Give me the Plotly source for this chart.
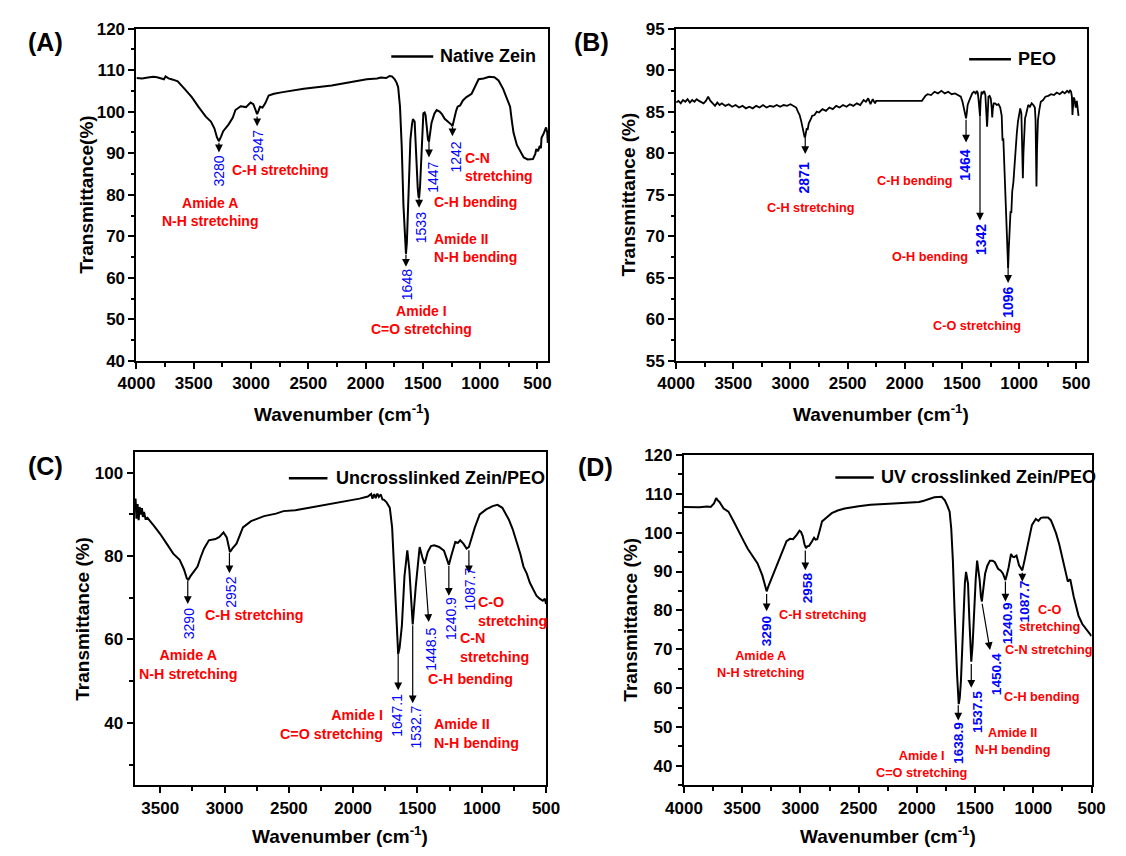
import plotly.graph_objects as go

# ---------------- data ----------------
# (A) Native Zein
wA = [4000, 3950, 3900, 3853, 3820, 3790, 3760, 3746, 3720, 3680, 3640, 3580, 3517, 3460, 3395, 3350,
      3320, 3297, 3280, 3262, 3243, 3197, 3160, 3136, 3090, 3044, 3004, 2980, 2958, 2947, 2935, 2922,
      2900, 2876, 2846, 2800, 2723, 2540, 2296, 2100, 1990, 1900, 1868, 1820, 1792, 1770, 1746, 1730,
      1716, 1700, 1685, 1670, 1660, 1648, 1640, 1630, 1620, 1609, 1595, 1587, 1572, 1557, 1545, 1538,
      1533, 1525, 1517, 1505, 1496, 1485, 1477, 1465, 1456, 1447, 1435, 1425, 1400, 1380, 1355, 1334,
      1310, 1288, 1265, 1252, 1242, 1227, 1210, 1197, 1175, 1151, 1120, 1075, 1040, 1014, 970, 922,
      876, 840, 800, 770, 739, 725, 709, 680, 648, 620, 586, 560, 540, 520, 510, 495, 480, 470, 465,
      450, 434, 425, 415, 410]
TA = [108.1, 108.0, 108.2, 108.4, 108.3, 108.0, 107.8, 108.5, 108.0, 107.7, 107.3, 105.5, 103.5, 101.2,
      98.8, 97.6, 96.0, 93.8, 92.9, 94.0, 95.3, 96.9, 98.5, 100.4, 101.3, 101.1, 102.2, 101.8, 99.8, 99.4,
      100.2, 101.2, 101.0, 102.0, 103.9, 104.3, 104.7, 105.5, 106.3, 107.2, 107.8, 108.0, 108.2, 108.1,
      108.6, 108.5, 107.8, 107.0, 105.9, 101.2, 91.8, 77.6, 70.0, 65.8, 68.5, 77.6, 86.0, 93.3, 97.0,
      98.2, 97.6, 87.0, 81.5, 79.5, 79.3, 82.0, 87.0, 95.0, 99.6, 99.8, 99.2, 96.0, 93.3, 92.8, 95.5,
      97.3, 99.5, 100.4, 100.0, 99.4, 98.3, 97.8, 97.2, 96.9, 96.5, 98.4, 100.2, 101.2, 101.5, 102.7,
      103.5, 104.3, 106.5, 107.8, 108.0, 108.4, 108.3, 107.5, 105.5, 103.5, 101.2, 98.0, 94.9, 92.0,
      90.2, 89.0, 88.5, 88.5, 88.6, 89.8, 91.0, 90.5, 91.8, 91.2, 93.7, 94.5, 95.7, 96.2, 95.0, 92.5]

# (B) PEO
wB = [4000, 3980, 3960, 3940, 3920, 3900, 3880, 3860, 3840, 3820, 3800, 3780, 3760, 3740, 3720, 3700,
      3680, 3660, 3640, 3620, 3600, 3570, 3540, 3510, 3480, 3450, 3420, 3390, 3360, 3330, 3300, 3270,
      3240, 3210, 3180, 3150, 3120, 3090, 3060, 3030, 3000, 2970, 2950, 2935, 2920, 2905, 2895, 2885,
      2876, 2871, 2865, 2858, 2850, 2840, 2825, 2810, 2790, 2770, 2750, 2720, 2690, 2660, 2630, 2600,
      2570, 2540, 2510, 2480, 2450, 2420, 2390, 2360, 2340, 2320, 2300, 2280, 2260, 2250, 1850, 1820,
      1800, 1770, 1740, 1710, 1680, 1650, 1620, 1590, 1560, 1530, 1510, 1495, 1485, 1475, 1468, 1464,
      1458, 1450, 1440, 1425, 1410, 1395, 1380, 1370, 1362, 1355, 1348, 1342, 1336, 1328, 1318, 1305,
      1295, 1285, 1280, 1275, 1268, 1258, 1248, 1240, 1235, 1230, 1222, 1210, 1195, 1180, 1165, 1152,
      1145, 1138, 1130, 1120, 1110, 1102, 1096, 1090, 1082, 1075, 1068, 1060, 1050, 1040, 1030, 1020,
      1010, 1000, 990, 980, 972, 967, 962, 955, 948, 940, 930, 920, 905, 890, 875, 862, 856, 852, 848,
      843, 835, 822, 810, 790, 770, 745, 720, 695, 670, 645, 620, 600, 580, 565, 555, 545, 538, 533,
      528, 523, 515, 505, 495, 487, 480]
TB = [86.1, 86.3, 86.0, 86.4, 86.2, 86.5, 86.1, 86.4, 86.2, 86.5, 86.3, 86.1, 86.0, 86.3, 86.8, 86.3,
      86.0, 85.7, 86.1, 85.8, 86.0, 85.7, 85.9, 85.6, 85.8, 85.5, 85.7, 85.4, 85.6, 85.4, 85.7, 85.5,
      85.8, 85.5, 85.7, 85.6, 85.8, 85.6, 85.8, 85.7, 85.9, 85.7, 85.5, 85.0, 84.6, 83.8, 83.0, 82.3,
      81.9, 82.0, 82.4, 83.0, 82.8, 83.6, 84.0, 84.5, 84.6, 85.0, 84.9, 85.3, 85.1, 85.5, 85.3, 85.7,
      85.5, 85.8, 85.6, 85.9, 85.7, 86.0, 85.8, 86.4, 86.2, 86.6, 85.9, 86.5, 86.0, 86.3, 86.3, 86.9,
      87.1, 87.0, 87.4, 87.2, 87.5, 87.2, 87.4, 87.1, 87.2, 86.9, 86.8, 86.2, 85.6, 84.9, 84.3, 84.2,
      84.8, 85.8, 86.2, 86.8, 87.2, 87.4, 87.2, 87.5, 87.3, 86.5, 85.0, 84.5, 86.5, 87.4, 87.2, 87.5,
      87.0, 85.0, 83.2, 84.5, 86.8, 86.9, 86.6, 85.5, 84.3, 85.3, 86.0, 86.0, 85.8, 85.9, 85.5, 84.5,
      81.5, 81.8, 79.0, 75.7, 72.5, 68.0, 66.2, 68.5, 71.8, 73.0, 72.8, 75.4, 76.5, 78.9, 80.5, 82.4,
      83.8, 84.8, 85.4, 84.8, 80.0, 77.0, 80.0, 83.5, 84.2, 84.6, 85.2, 85.8, 85.6, 86.0, 85.8, 85.5,
      84.0, 80.0, 76.0, 80.5, 84.0, 85.3, 86.2, 86.4, 86.8, 86.9, 87.1, 87.0, 87.3, 87.1, 87.4, 87.2,
      87.5, 87.3, 87.6, 87.4, 86.8, 84.6, 85.6, 86.7, 86.5, 85.5, 86.3, 85.2, 84.5]

# (C) Uncrosslinked Zein/PEO
wC = [3700, 3692, 3685, 3676, 3668, 3660, 3651, 3642, 3635, 3626, 3615, 3600, 3550, 3500, 3450, 3399,
      3349, 3315, 3293, 3280, 3265, 3248, 3210, 3185, 3160, 3122, 3071, 3040, 3008, 2983, 2958, 2950,
      2940, 2907, 2857, 2794, 2693, 2600, 2542, 2450, 2340, 2200, 2088, 1950, 1886, 1860, 1850, 1836,
      1825, 1812, 1800, 1785, 1772, 1760, 1740, 1715, 1697, 1680, 1659, 1650, 1639, 1621, 1601, 1579,
      1563, 1546, 1537, 1513, 1483, 1463, 1445, 1420, 1395, 1370, 1332, 1294, 1268, 1256, 1236, 1206,
      1185, 1168, 1143, 1118, 1100, 1080, 1054, 1016, 966, 916, 878, 840, 790, 760, 727, 700, 676, 650,
      626, 600, 575, 550, 525, 510, 500]
TC = [91.5, 93.8, 89.0, 92.5, 88.6, 91.8, 90.0, 91.5, 89.4, 90.6, 89.0, 89.2, 87.3, 85.3, 83.0, 80.6,
      79.1, 76.8, 74.6, 74.4, 75.2, 75.9, 77.5, 79.8, 81.8, 83.8, 84.1, 84.6, 85.7, 84.5, 81.0, 81.3,
      81.8, 83.0, 86.9, 88.4, 89.6, 90.2, 90.8, 91.0, 91.6, 92.4, 93.1, 93.8, 94.3, 94.9, 93.8, 94.9,
      93.9, 95.0, 94.2, 94.8, 93.6, 93.5, 92.9, 91.6, 86.9, 75.2, 60.0, 56.5, 58.0, 63.4, 75.2, 81.4,
      76.7, 66.0, 63.6, 72.8, 82.2, 79.8, 78.1, 81.0, 82.4, 82.6, 82.2, 81.3, 79.1, 77.9, 80.2, 83.4,
      83.2, 83.8, 83.0, 81.8, 82.2, 84.5, 86.9, 90.0, 91.2, 92.0, 92.3, 91.6, 88.8, 86.5, 83.4, 80.5,
      77.5, 75.8, 73.6, 72.0, 70.5, 69.8, 69.3, 69.8, 68.5]

# (D) UV crosslinked Zein/PEO
wD = [4000, 3940, 3867, 3800, 3770, 3742, 3723, 3710, 3695, 3659, 3618, 3575, 3534, 3490, 3451, 3410,
      3368, 3327, 3305, 3290, 3275, 3243, 3210, 3174, 3119, 3090, 3063, 3030, 3008, 2995, 2980, 2965,
      2952, 2940, 2925, 2900, 2883, 2870, 2855, 2835, 2814, 2770, 2731, 2680, 2620, 2500, 2398, 2200,
      1982, 1940, 1899, 1850, 1788, 1760, 1740, 1719, 1705, 1691, 1677, 1665, 1655, 1641, 1632, 1622,
      1610, 1600, 1588, 1578, 1561, 1550, 1544, 1533, 1522, 1511, 1495, 1483, 1470, 1461, 1450, 1442,
      1428, 1414, 1395, 1373, 1350, 1331, 1303, 1280, 1262, 1240, 1225, 1212, 1192, 1178, 1165, 1145,
      1123, 1095, 1075, 1054, 1030, 1012, 979, 957, 935, 915, 874, 850, 833, 805, 778, 737, 720, 704,
      690, 682, 654, 630, 612, 580, 543, 520, 500]
TD = [106.6, 106.6, 106.5, 106.7, 106.6, 107.5, 108.9, 108.3, 107.9, 106.2, 105.4, 103.0, 100.4, 98.0,
      95.8, 93.8, 92.1, 89.0, 86.8, 84.9, 86.2, 88.6, 91.0, 93.7, 97.8, 98.4, 98.3, 99.5, 100.5, 100.2,
      99.1, 97.0, 96.0, 96.5, 96.6, 97.8, 98.7, 98.2, 98.3, 100.5, 102.9, 104.0, 105.0, 105.7, 106.2,
      106.8, 107.2, 107.5, 107.9, 108.2, 108.7, 109.1, 109.2, 108.3, 107.0, 105.4, 101.0, 92.8, 80.2,
      70.0, 63.5, 55.9, 57.5, 61.8, 71.0, 80.2, 87.0, 89.9, 86.9, 78.0, 71.9, 66.8, 71.0, 78.6, 88.0,
      92.8, 90.0, 87.8, 83.5, 82.3, 86.0, 89.5, 91.5, 92.8, 92.8, 92.4, 90.7, 90.2, 89.5, 87.8, 89.5,
      91.1, 94.5, 93.8, 93.7, 94.1, 91.6, 90.3, 93.0, 96.2, 99.5, 102.0, 103.5, 103.0, 103.8, 103.9,
      103.9, 103.2, 102.0, 99.8, 97.0, 92.0, 90.0, 87.4, 87.9, 87.8, 83.6, 80.5, 78.6, 76.5, 75.2,
      74.2, 73.4]

for a, b in ((wA, TA), (wB, TB), (wC, TC), (wD, TD)):
    assert len(a) == len(b), (len(a), len(b))

series_names = ["Native Zein", "PEO", "Uncrosslinked Zein/PEO", "UV crosslinked Zein/PEO"]
x_ticks = [4000, 3500, 3000, 2500, 2000, 1500, 1000, 500]

# peak labels: (text, wavenumber, transmittance)
peaksA = [("3280", 3276, 85.7), ("2947", 2932, 91.9), ("1648", 1642, 58.4),
          ("1533", 1515, 72.0), ("1447", 1408, 84.2), ("1242", 1210, 89.0)]
peaksB = [("2871", 2879, 77.0), ("1464", 1475, 78.6), ("1342", 1339, 69.6), ("1096", 1099, 62.1)]
peaksC = [("3290", 3280, 63.8), ("2952", 2952, 71.4), ("1647.1", 1660, 41.9), ("1532.7", 1508, 39.0),
          ("1448.5", 1395, 57.8), ("1240.9", 1245, 65.0), ("1087.7", 1092, 72.2)]
peaksD = [("3290", 3290, 74.8), ("2958", 2939, 85.8), ("1638.9", 1644, 46.0), ("1537.5", 1480, 54.0),
          ("1450.4", 1317, 63.7), ("1240.9", 1222, 76.6), ("1087.7", 1075, 82.2)]

# band assignments: (text, wavenumber, transmittance, anchor)
bandsA = [("C-H stretching", 2747, 85.9, "center"), ("Amide A<br>N-H stretching", 3360, 75.8, "center"),
          ("Amide I<br>C=O stretching", 1513, 49.8, "center"), ("Amide II<br>N-H bending", 1420, 67.3, "left"),
          ("C-H bending", 1420, 78.3, "left"), ("C-N<br>stretching", 1146, 86.6, "left")]
bandsB = [("C-H stretching", 2829, 73.4, "center"), ("C-H bending", 1571, 76.6, "right"),
          ("O-H bending", 1429, 67.5, "right"), ("C-O stretching", 1370, 59.2, "center")]
bandsC = [("C-H stretching", 2764, 65.8, "center"), ("Amide A<br>N-H stretching", 3278, 54.1, "center"),
          ("Amide I<br>C=O stretching", 1755, 39.6, "right"), ("Amide II<br>N-H bending", 1387, 37.5, "left"),
          ("C-H bending", 1437, 50.5, "left"), ("C-N<br>stretching", 1185, 58.0, "left"),
          ("C-O<br>stretching", 1042, 66.7, "left")]
bandsD = [("C-H stretching", 2808, 78.7, "center"), ("Amide A<br>N-H stretching", 3346, 66.1, "center"),
          ("Amide I<br>C=O stretching", 1960, 40.4, "center"), ("Amide II<br>N-H bending", 1176, 46.2, "center"),
          ("C-H bending", 932, 57.8, "center"), ("C-N stretching", 871, 69.9, "center"),
          ("C-O<br>stretching", 865, 77.9, "center")]

# arrows: (tail wavenumber, tail T, head wavenumber, head T)
arrowsA = [(3280, 92.9, 3280, 90.2), (2947, 99.2, 2947, 96.5), (1648, 66.0, 1648, 62.7),
           (1533, 79.5, 1533, 76.9), (1447, 93.5, 1447, 89.0), (1242, 96.7, 1242, 94.1)]
arrowsB = [(2871, 82.1, 2871, 79.9), (1464, 84.2, 1464, 81.3), (1342, 86.0, 1342, 71.9),
           (1096, 66.8, 1096, 64.4)]
arrowsC = [(3286, 74.6, 3286, 68.5), (2962, 81.2, 2962, 75.9), (1650, 56.8, 1650, 47.8),
           (1537, 63.8, 1537, 44.7), (1445, 78.0, 1412, 64.2), (1256, 78.0, 1256, 70.5),
           (1100, 81.8, 1100, 75.9)]
arrowsD = [(3290, 84.6, 3290, 79.8), (2958, 95.8, 2958, 90.3), (1645, 56.0, 1645, 51.7),
           (1533, 66.6, 1533, 60.1), (1442, 82.1, 1372, 69.8), (1240, 87.8, 1240, 82.3),
           (1095, 90.1, 1095, 87.4)]

# ---------------- layout ----------------
W, H = 1126, 856
FONT = "Liberation Sans, Arial, sans-serif"
RED = "#FF0000"
BLUE = "#0000FF"


def px(x):
    return x / W


def py(y):
    return 1 - y / H


panels = [
    dict(key="A", w=wA, t=TA, name=series_names[0], frame=(121, 545, 20, 360), xr=[4000, 408],
         yr=[40, 120], dy=10, mdy=5, y0=0, peaks=peaksA, bands=bandsA, arrows=arrowsA,
         ytitle="Transmittance(%)", ytx=70, xty=413, lab=(27, 34), leg=(1776, 1410, 1364, 113.3),
         redsize=14, bluesize=14, bluebold=False, lw=2.0),
    dict(key="B", w=wB, t=TB, name=series_names[1], frame=(677, 1100, 20, 360), xr=[4000, 408],
         yr=[55, 95], dy=5, mdy=2.5, y0=0, peaks=peaksB, bands=bandsB, arrows=arrowsB,
         ytitle="Transmittance (%)", ytx=628, xty=413, lab=(590, 34), leg=(1437, 1071, 1025, 91.3),
         redsize=12.7, bluesize=14, bluebold=True, lw=1.8),
    dict(key="C", w=wC, t=TC, name=series_names[2], frame=(119, 543, 453, 794), xr=[3700, 500],
         yr=[25, 105], dy=20, mdy=10, y0=0, peaks=peaksC, bands=bandsC, arrows=arrowsC,
         ytitle="Transmittance (%)", ytx=66, xty=845, lab=(27, 467), leg=(2500, 2200, 2150, 98.7),
         redsize=14.3, bluesize=14, bluebold=False, lw=2.0),
    dict(key="D", w=wD, t=TD, name=series_names[3], frame=(685, 1105, 456, 794), xr=[4000, 500],
         yr=[35, 120], dy=10, mdy=5, y0=0, peaks=peaksD, bands=bandsD, arrows=arrowsD,
         ytitle="Transmittance (%)", ytx=630, xty=845, lab=(594, 468), leg=(2700, 2370, 2325, 114.2),
         redsize=12.7, bluesize=13.7, bluebold=True, lw=2.0),
]

fig = go.Figure()
annotations = []
shapes = []
layout = dict(width=W, height=H, margin=dict(l=0, r=0, t=0, b=0), paper_bgcolor="white",
              plot_bgcolor="white", showlegend=False)

for i, p in enumerate(panels, start=1):
    xa = "x" if i == 1 else f"x{i}"
    ya = "y" if i == 1 else f"y{i}"
    xl, xr_, yt, yb = p["frame"]
    fig.add_trace(go.Scatter(x=p["w"], y=p["t"], mode="lines", name=p["name"],
                             line=dict(color="black", width=p["lw"]), xaxis=xa, yaxis=ya,
                             hoverinfo="skip"))
    axis_common = dict(showline=True, linecolor="black", linewidth=2, mirror=True, showgrid=False,
                       zeroline=False, ticks="outside", ticklen=6, tickwidth=2, tickcolor="black",
                       tickfont=dict(family=FONT, size=17, color="black", weight="bold"))
    layout["xaxis" if i == 1 else f"xaxis{i}"] = dict(
        axis_common, domain=[px(xl), px(xr_)], range=p["xr"], anchor=ya,
        tickmode="array", tickvals=x_ticks,
        minor=dict(dtick=250, tick0=500, ticks="outside", ticklen=3.5, tickwidth=1.5, tickcolor="black"))
    layout["yaxis" if i == 1 else f"yaxis{i}"] = dict(
        axis_common, domain=[py(yb), py(yt)], range=p["yr"], anchor=xa,
        dtick=p["dy"], tick0=p["y0"],
        minor=dict(dtick=p["mdy"], tick0=p["y0"], ticks="outside", ticklen=3.5, tickwidth=1.5,
                   tickcolor="black"))

    # panel tag
    annotations.append(dict(text=f"({p['key']})", x=px(p["lab"][0]), y=py(p["lab"][1]), xref="paper",
                            yref="paper", showarrow=False, xanchor="center", yanchor="middle",
                            font=dict(family=FONT, size=25, color="black", weight="bold")))
    # axis titles
    annotations.append(dict(text=p["ytitle"], x=px(p["ytx"]), y=py((yt + yb) / 2), xref="paper",
                            yref="paper", showarrow=False, textangle=-90, xanchor="center",
                            yanchor="middle", font=dict(family=FONT, size=19, color="black", weight="bold")))
    annotations.append(dict(text="Wavenumber (cm<sup>-1</sup>)", x=px((xl + xr_) / 2), y=py(p["xty"]),
                            xref="paper", yref="paper", showarrow=False, xanchor="center",
                            yanchor="middle", font=dict(family=FONT, size=19, color="black", weight="bold")))
    # legend
    l0, l1, lt, ly = p["leg"]
    shapes.append(dict(type="line", xref=xa, yref=ya, x0=l0, x1=l1, y0=ly, y1=ly,
                       line=dict(color="black", width=2.5)))
    annotations.append(dict(text=p["name"], x=lt, y=ly, xref=xa, yref=ya, showarrow=False,
                            xanchor="left", yanchor="middle",
                            font=dict(family=FONT, size=18, color="black", weight="bold")))
    # arrows
    for (tx, ty, hx, hy) in p["arrows"]:
        annotations.append(dict(text="", x=hx, y=hy, ax=tx, ay=ty, xref=xa, yref=ya, axref=xa, ayref=ya,
                                showarrow=True, arrowhead=2, arrowsize=1.3, arrowwidth=1.2,
                                arrowcolor="black", standoff=0, startstandoff=0))
    # peak numbers
    for (txt, wx, ty) in p["peaks"]:
        annotations.append(dict(text=txt, x=wx, y=ty, xref=xa, yref=ya, showarrow=False, textangle=-90,
                                xanchor="center", yanchor="middle",
                                font=dict(family=FONT, size=p["bluesize"], color=BLUE,
                                          weight="bold" if p["bluebold"] else "normal")))
    # band names
    for (txt, wx, ty, anc) in p["bands"]:
        annotations.append(dict(text=txt, x=wx, y=ty, xref=xa, yref=ya, showarrow=False,
                                xanchor=anc, yanchor="middle", align=anc,
                                font=dict(family=FONT, size=p["redsize"], color=RED, weight="bold")))

layout["annotations"] = annotations
layout["shapes"] = shapes
fig.update_layout(**layout)
fig.write_html("out.html")
